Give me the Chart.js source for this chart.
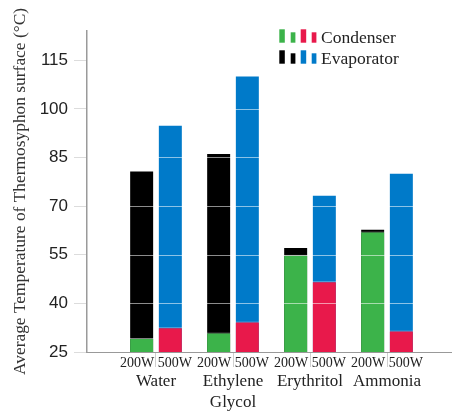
<!DOCTYPE html>
<html>
<head>
<meta charset="utf-8">
<script src="https://cdn.jsdelivr.net/npm/chart.js@4.4.1/dist/chart.umd.min.js"></script>
<style>
  html, body { margin: 0; padding: 0; background: #fff; }
  #wrap { width: 452px; height: 412px; position: relative; }
</style>
</head>
<body>
<div id="wrap"><canvas id="chart"></canvas></div>
<script>
// datos
const groups = ['Water', ['Ethylene', 'Glycol'], 'Erythritol', 'Ammonia'];
const powers = ['200W', '500W'];
const condenser200 = [29.3, 31.0, 55.0, 62.2];
const condenser500 = [32.6, 34.4, 46.8, 31.6];
const evaporator200 = [81.0, 86.4, 57.4, 63.0];
const evaporator500 = [95.1, 110.3, 73.5, 80.3];
const yTicks = [25, 40, 55, 70, 85, 100, 115];

const GREEN = '#3cb34a', RED = '#e8194b', BLACK = '#000000', BLUE = '#007ac9';
const serif = 'Liberation Serif, Times New Roman, serif';
const sans = 'Liberation Sans, Arial, sans-serif';

const toPoints = arr => arr.map((v, i) => ({ x: i + 1, y: v }));
const barStyle = {
    borderColor: 'rgba(255,255,255,0.5)',
    borderWidth: 1,
    categoryPercentage: 0.745,
    barPercentage: 0.871
};

// líneas de la grilla por encima de las barras
const gridOverlay = {
    id: 'gridOverlay',
    afterDatasetsDraw(chart) {
        const { ctx, chartArea, scales } = chart;
        ctx.save();
        ctx.strokeStyle = 'rgba(255,255,255,0.55)';
        ctx.lineWidth = 1;
        yTicks.forEach(v => {
            if (v <= scales.y.min) return;
            const y = Math.round(scales.y.getPixelForValue(v)) + 0.5;
            ctx.beginPath();
            ctx.moveTo(chartArea.left + 1, y);
            ctx.lineTo(chartArea.right, y);
            ctx.stroke();
        });
        ctx.restore();
    }
};

// leyenda dibujada a mano (iconos de dos colores)
const legendRows = [
    { label: 'Condenser', colors: [GREEN, RED] },
    { label: 'Evaporator', colors: [BLACK, BLUE] }
];
const customLegend = {
    id: 'customLegend',
    afterDraw(chart) {
        const ctx = chart.ctx;
        ctx.save();
        legendRows.forEach((row, r) => {
            const y0 = 29.3 + r * 21;
            const icons = [
                { x: 279.3, w: 5.5, h: 13.4, c: row.colors[0] },
                { x: 290.7, w: 4.7, h: 10.4, c: row.colors[0] },
                { x: 300.7, w: 5.5, h: 13.4, c: row.colors[1] },
                { x: 311.7, w: 4.7, h: 10.4, c: row.colors[1] }
            ];
            icons.forEach(ic => {
                ctx.fillStyle = ic.c;
                ctx.fillRect(ic.x, y0 + 13.4 - ic.h, ic.w, ic.h);
            });
            ctx.fillStyle = '#222';
            ctx.font = '17.5px ' + serif;
            ctx.textBaseline = 'alphabetic';
            ctx.fillText(row.label, 321, y0 + 14);
        });
        ctx.restore();
    }
};

new Chart(document.getElementById('chart'), {
    type: 'bar',
    data: {
        datasets: [
            { label: 'Condenser 200W', stack: 'p200', data: toPoints(condenser200), backgroundColor: GREEN, ...barStyle },
            { label: 'Condenser 500W', stack: 'p500', data: toPoints(condenser500), backgroundColor: RED, ...barStyle },
            { label: 'Evaporator 200W', stack: 'p200', data: toPoints(evaporator200), backgroundColor: BLACK, ...barStyle },
            { label: 'Evaporator 500W', stack: 'p500', data: toPoints(evaporator500), backgroundColor: BLUE, ...barStyle }
        ]
    },
    options: {
        responsive: true,
        maintainAspectRatio: false,
        animation: false,
        layout: { padding: { top: 31, left: 0, right: 0, bottom: 0 } },
        plugins: { legend: { display: false }, tooltip: { enabled: false } },
        scales: {
            x: {
                type: 'linear',
                stacked: true,
                offset: false,
                position: 'bottom',
                min: 0.104,
                max: 4.844,
                border: { color: '#999', width: 1 },
                grid: { offset: false, drawOnChartArea: false, color: '#cfcfcf', tickLength: 15 },
                ticks: {
                    stepSize: 1,
                    includeBounds: false,
                    autoSkip: false,
                    maxRotation: 0,
                    padding: -12,
                    color: '#222',
                    font: { family: serif, size: 14 },
                    callback: v => (Number.isInteger(v) && v >= 1 && v <= groups.length) ? powers.join(' ') : ''
                },
                afterFit: s => { s.height = 18; }
            },
            x2: {
                type: 'linear',
                offset: false,
                position: 'bottom',
                min: 0.104,
                max: 4.844,
                border: { display: false },
                grid: { display: false, offset: false },
                ticks: {
                    stepSize: 1,
                    includeBounds: false,
                    autoSkip: false,
                    maxRotation: 0,
                    padding: -7,
                    color: '#222',
                    font: { family: serif, size: 17, lineHeight: 1.24 },
                    callback: v => (Number.isInteger(v) && v >= 1 && v <= groups.length) ? groups[v - 1] : ''
                },
                afterFit: s => { s.height = 42; }
            },
            y: {
                type: 'linear',
                stacked: false,
                position: 'left',
                min: 25,
                max: 124,
                border: { color: '#9a9a9a', width: 1.5 },
                grid: {
                    drawOnChartArea: false,
                    tickColor: '#dcdcdc',
                    tickLength: 13,
                    lineWidth: 1
                },
                ticks: {
                    padding: 6,
                    color: '#222',
                    font: { family: sans, size: 17 }
                },
                afterBuildTicks: s => { s.ticks = yTicks.map(v => ({ value: v })); },
                title: {
                    display: true,
                    text: 'Average Temperature of Thermosyphon surface (°C)',
                    color: '#333',
                    font: { family: serif, size: 17.4 },
                    padding: { top: 10, bottom: 0 }
                },
                afterFit: s => { s.width = 87; }
            }
        }
    },
    plugins: [gridOverlay, customLegend]
});
</script>
</body>
</html>
